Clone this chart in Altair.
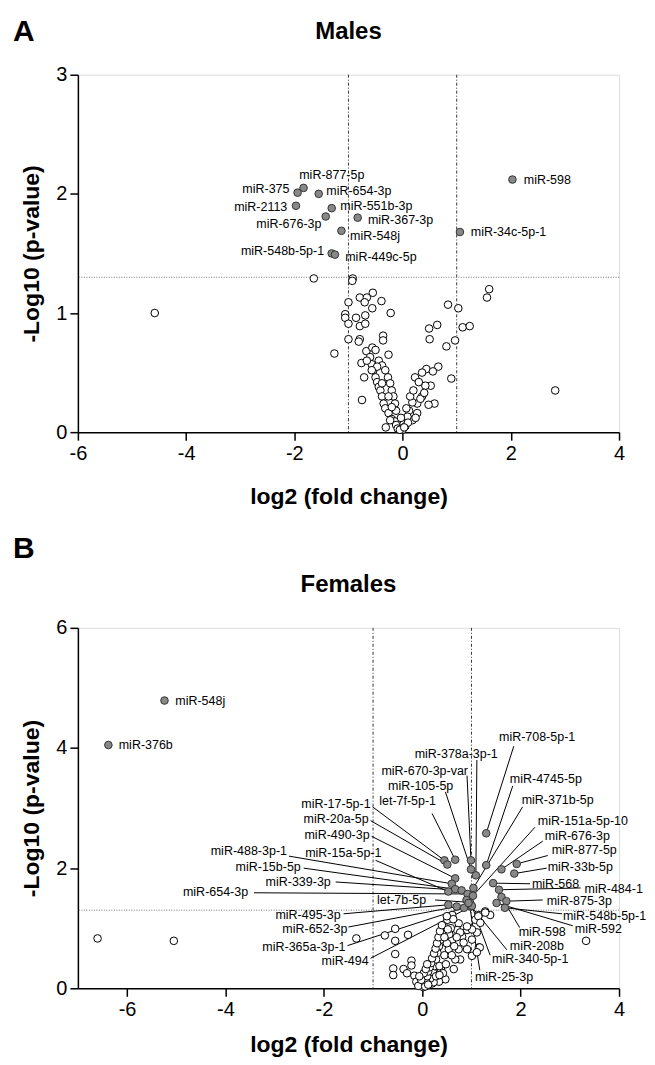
import altair as alt
import pandas as pd

FONT = "Liberation Sans"

# ---------------- Males ----------------
m_sig_name = ["miR-877-5p", "miR-375", "miR-654-3p", "miR-2113", "miR-551b-3p", "miR-676-3p",
              "miR-367-3p", "miR-548j", "miR-548b-5p-1", "miR-449c-5p", "miR-598", "miR-34c-5p-1"]
m_sig_x = [-1.83, -1.94, -1.55, -1.97, -1.31, -1.42, -0.83, -1.13, -1.31, -1.25, 2.03, 1.06]
m_sig_y = [2.05, 2.01, 2.00, 1.90, 1.88, 1.81, 1.80, 1.69, 1.50, 1.49, 2.12, 1.68]
m_lab_x = [-1.91, -2.09, -1.41, -2.13, -1.15, -1.50, -0.64, -0.97, -1.45, -1.06, 2.24, 1.26]
m_lab_y = [2.16, 2.04, 2.02, 1.89, 1.90, 1.75, 1.78, 1.65, 1.52, 1.47, 2.12, 1.68]
m_lab_align = ["left", "right", "left", "right", "left", "right",
               "left", "left", "right", "left", "left", "left"]

m_ns_x = [-4.58, 2.82, -1.64, -0.92, -0.93, -0.55, -0.79, -0.66, -0.70, -1.00, -0.39, -0.56, -0.22,
          -1.06, -1.06, -0.86, -0.69, -1.00, -0.79, -0.69, -1.00, -0.79, -0.81, -0.36, -0.36, -1.26,
          -0.67, -0.56, -0.50, -0.26, -0.76, -0.71, -0.75,
          0.84, 1.03, 1.60, 1.56, 0.49, 0.64, 0.50, 1.11, 1.24, 0.97, 0.81, 0.90, 0.44, 0.66, 0.56,
          0.36, 0.23, 0.52, 0.42, 0.36, 0.59, 0.48, 0.27, 0.18, 0.27, 0.18, 0.12, 0.09, 0.02, 0.00,
          -0.60, -0.57, -0.54, -0.50, -0.47, -0.44, -0.41, -0.38, -0.35, -0.32, -0.26, -0.20, -0.14,
          -0.12, -0.09, -0.44, -0.38, -0.32, -0.27, -0.23, -0.20, -0.17, -0.14, -0.12, -0.31, -0.23,
          -0.66, -0.47, -0.20, -0.26, -0.38, -0.57, 0.05, 0.10, 0.14, 0.20, 0.30, 0.33, 0.40, 0.24,
          -0.05, -0.03, 0.03, 0.07]
m_ns_y = [1.00, 0.35, 1.29, 1.29, 1.27, 1.17, 1.13, 1.13, 1.09, 1.09, 1.10, 1.04, 1.00,
          0.99, 0.96, 0.96, 0.98, 0.91, 0.89, 0.91, 0.78, 0.78, 0.76, 0.81, 0.77, 0.66,
          0.68, 0.71, 0.69, 0.65, 0.58, 0.46, 0.27,
          1.07, 1.04, 1.20, 1.13, 0.87, 0.90, 0.78, 0.88, 0.89, 0.77, 0.72, 0.45, 0.53, 0.55, 0.51,
          0.50, 0.46, 0.39, 0.39, 0.30, 0.24, 0.23, 0.24, 0.25, 0.16, 0.10, 0.18, 0.13, 0.07, 0.02,
          0.63, 0.57, 0.52, 0.46, 0.42, 0.38, 0.35, 0.30, 0.24, 0.20, 0.16, 0.11, 0.09,
          0.06, 0.03, 0.60, 0.56, 0.52, 0.46, 0.41, 0.35, 0.30, 0.24, 0.18, 0.04, 0.10,
          0.60, 0.55, 0.21, 0.30, 0.41, 0.52, 0.05, 0.08, 0.30, 0.35, 0.42, 0.28, 0.33, 0.12,
          0.02, 0.12, 0.04, 0.20]

# ---------------- Females ----------------
f_sig_x = [0.45, 0.51, 0.67, 0.99, 0.99, 1.09, 1.30, 1.30, 0.67, 0.60, 0.67, 0.53, 0.80, 0.92,
           1.04, 1.03, 0.97, 0.90, 0.53, 0.70, 0.85, 0.99, 1.61, 1.92, 1.87, 1.44, 1.56, 1.61,
           1.71, 1.51, 1.68, 1.01, 0.94, -5.24, -6.38]
f_sig_y = [2.13, 2.06, 2.14, 2.13, 1.98, 1.88, 2.58, 2.05, 1.83, 1.74, 1.65, 1.61, 1.63, 1.57,
           1.67, 1.54, 1.43, 1.47, 1.39, 1.36, 1.34, 1.36, 1.98, 2.07, 1.91, 1.75, 1.64, 1.52,
           1.45, 1.42, 1.34, 1.37, 1.42, 4.79, 4.05]

f_ns_x = [-6.60, -5.05, 3.33, -1.34, -0.76, -0.55, -0.29, -0.55, -0.55, -0.59, -0.59, -0.38, -0.22,
          -0.22, -0.31, -0.16, -0.12, 0.00, 0.16, 0.22, 0.25, 0.28, 0.31, 0.34, 0.38, 0.41, 0.44,
          0.51, 0.61, 0.74, 0.71, 0.81, 0.61, 0.54, 0.74, 0.91, 1.08, 1.15, 1.38, 1.28, 0.91, 1.01,
          1.15, 0.77, 0.64, 0.47, 0.34, 0.20, 0.67, 0.38, 0.84, 1.01, 1.14, 1.18, 1.11, 1.01, 1.17,
          1.11, 0.77, 0.91, 0.63, 0.50, 0.35, 0.23, 0.16, 1.28, 0.05, 0.08, 0.10, 0.12, 0.15, 0.18,
          0.20, 0.24, 0.27, 0.30, 0.33, 0.36, 0.40, 0.45, 0.50, 0.55, 0.58, 0.48, 0.42, 0.60, 0.65,
          0.70, 0.45, 0.52, 0.28, 0.35, 0.02, -0.04, -0.08, 0.06, 0.12, -0.02, 0.03, 0.07, -0.06, 0.10]
f_ns_y = [0.83, 0.79, 0.79, 0.83, 0.88, 0.99, 0.89, 0.79, 0.57, 0.33, 0.22, 0.32, 0.46,
          0.38, 0.25, 0.21, 0.11, 0.05, 0.15, 0.26, 0.37, 0.48, 0.59, 0.70, 0.81, 0.92, 1.03,
          1.14, 1.22, 1.08, 0.97, 0.86, 0.81, 0.65, 0.65, 0.97, 1.14, 1.22, 1.22, 1.28, 0.65, 0.54,
          0.68, 0.48, 0.32, 0.15, 0.11, 0.08, 0.48, 0.32, 0.76, 0.81, 1.20, 1.09, 0.93, 0.98, 0.68,
          0.60, 0.93, 1.03, 1.15, 1.20, 0.37, 0.10, 0.16, 1.26, 0.08, 0.12, 0.20, 0.28, 0.35, 0.42,
          0.50, 0.58, 0.66, 0.75, 0.85, 0.95, 1.05, 0.55, 0.75, 0.90, 1.00, 0.40, 0.25, 0.55, 0.70,
          0.85, 0.85, 0.98, 0.20, 0.22, 0.02, 0.06, 0.04, 0.03, 0.06, 0.14, 0.25, 0.32, 0.20, 0.40]

# labelled points: name, text x/y, alignment, leader start x/y, point x/y
f_lab_name = ["miR-17-5p-1", "miR-20a-5p", "miR-490-3p", "miR-488-3p-1", "miR-15a-5p-1",
              "miR-15b-5p", "miR-339-3p", "miR-654-3p", "let-7b-5p", "miR-495-3p", "miR-652-3p",
              "miR-365a-3p-1", "miR-494", "miR-378a-3p-1", "miR-670-3p-var", "miR-105-5p",
              "let-7f-5p-1", "miR-708-5p-1", "miR-4745-5p", "miR-371b-5p", "miR-151a-5p-10",
              "miR-676-3p", "miR-877-5p", "miR-33b-5p", "miR-568", "miR-484-1", "miR-875-3p",
              "miR-548b-5p-1", "miR-592", "miR-598", "miR-208b", "miR-340-5p-1", "miR-25-3p"]
f_lab_x = [-1.05, -1.09, -1.07, -2.75, -0.83, -2.47, -1.86, -3.54, 0.08, -1.66, -1.52, -1.56,
           -1.09, 0.69, 0.93, 0.63, 0.28, 1.56, 1.78, 2.02, 2.35, 2.49, 2.63, 2.55, 2.23, 3.30,
           2.53, 2.86, 3.10, 1.96, 1.78, 1.42, 1.07]
f_lab_y = [3.06, 2.81, 2.55, 2.28, 2.26, 2.02, 1.77, 1.60, 1.47, 1.22, 0.99, 0.68, 0.46, 3.90,
           3.62, 3.37, 3.11, 4.18, 3.49, 3.14, 2.79, 2.53, 2.30, 2.02, 1.74, 1.65, 1.45, 1.21,
           0.98, 0.93, 0.71, 0.48, 0.18]
f_lab_align = ["right"] * 13 + ["center", "right", "right", "right"] + ["left"] * 16
f_line_x = [-1.01, -1.05, -1.03, -2.71, -0.95, -2.41, -1.76, -3.42, 0.26, -1.60, -1.50, -1.52,
            -1.05, 1.11, 0.91, 0.47, 0.20, 1.86, 1.84, 2.04, 2.29, 2.45, 2.55, 2.53, 2.19, 3.22,
            2.45, 2.84, 3.06, 1.98, 1.72, 1.38, 1.17]
f_line_y = [3.02, 2.79, 2.53, 2.20, 2.13, 2.00, 1.77, 1.59, 1.47, 1.24, 1.02, 0.71, 0.50, 3.80,
            3.54, 3.27, 2.91, 4.03, 3.37, 3.02, 2.68, 2.45, 2.21, 2.00, 1.74, 1.67, 1.47, 1.24,
            1.04, 1.01, 0.64, 0.55, 0.30]
f_pt_x = [0.45, 0.51, 0.67, 0.60, 0.53, 0.67, 0.80, 0.92, 0.97, 0.53, 0.70, 0.85, 0.99, 1.09,
          0.99, 0.99, 0.67, 1.30, 1.30, 1.04, 1.03, 1.61, 1.92, 1.87, 1.44, 1.56, 1.71, 1.68,
          1.51, 1.61, 0.94, 1.01, 0.97]
f_pt_y = [2.13, 2.06, 1.83, 1.74, 1.61, 1.65, 1.63, 1.57, 1.43, 1.39, 1.36, 1.34, 1.36, 1.88,
          2.13, 1.98, 2.14, 2.58, 2.05, 1.67, 1.54, 1.98, 2.07, 1.91, 1.75, 1.64, 1.45, 1.34,
          1.42, 1.52, 1.42, 1.37, 1.34]
f_side_name = ["miR-548j", "miR-376b"]
f_side_x = [-5.02, -6.17]
f_side_y = [4.79, 4.05]

W = 542
H_TOP = 358
H_BOT = 361


def axis(vals, title, orient, tpad):
    common = dict(values=vals, title=title, grid=False, tickSize=8, tickWidth=1.5,
                  domainWidth=1.5, domainColor="black", tickColor="black",
                  labelFont=FONT, labelFontSize=20, labelColor="black", labelPadding=3,
                  labelExpr="'' + datum.value",
                  titleFont=FONT, titleFontSize=23, titleFontWeight="bold", titleColor="black",
                  titlePadding=tpad)
    if orient == "x":
        return alt.Axis(labelFlush=False, **common)
    return alt.Axis(**common)


def panel(ns_df, sig_df, xdom, xticks, ydom, yticks, title, letter, letter_y, xtpad):
    xs = alt.Scale(domain=xdom, nice=False, zero=False)
    ys = alt.Scale(domain=ydom, nice=False, zero=False)
    base_x = alt.X("x:Q", scale=xs, axis=axis(xticks, "log2 (fold change)", "x", xtpad))
    base_y = alt.Y("y:Q", scale=ys, axis=axis(yticks, "-Log10 (p-value)", "y", 12))

    vlines = alt.Chart(pd.DataFrame({"x": [-1, 1]})).mark_rule(
        color="#333333", strokeWidth=1, strokeDash=[3, 2, 1, 2]).encode(
        x=alt.X("x:Q", scale=xs))
    hline = alt.Chart(pd.DataFrame({"y": [1.3]})).mark_rule(
        color="#777777", strokeWidth=1, strokeDash=[1, 1.5]).encode(
        y=alt.Y("y:Q", scale=ys))
    ns = alt.Chart(ns_df).mark_point(
        shape="circle", filled=True, fill="white", stroke="black", strokeWidth=1,
        size=58, opacity=1).encode(x=base_x, y=base_y)
    sig = alt.Chart(sig_df).mark_point(
        shape="circle", filled=True, fill="#888888", stroke="#333333", strokeWidth=1,
        size=58, opacity=1).encode(x=alt.X("x:Q", scale=xs), y=alt.Y("y:Q", scale=ys))
    ttl = alt.Chart(pd.DataFrame({"t": [title]})).mark_text(
        font=FONT, fontSize=24, fontWeight="bold", color="black", baseline="middle",
        align="center").encode(text="t:N", x=alt.value(W / 2), y=alt.value(-43))
    let = alt.Chart(pd.DataFrame({"t": [letter]})).mark_text(
        font=FONT, fontSize=30, fontWeight="bold", color="black", baseline="middle",
        align="left").encode(text="t:N", x=alt.value(-65), y=alt.value(letter_y))
    return [vlines, hline, ns, sig, ttl, let], xs, ys


# ---- top chart
m_ns = pd.DataFrame({"x": m_ns_x, "y": m_ns_y})
m_sig = pd.DataFrame({"x": m_sig_x, "y": m_sig_y})
m_lab = pd.DataFrame({"name": m_sig_name, "lx": m_lab_x, "ly": m_lab_y, "al": m_lab_align})
layers, xs, ys = panel(m_ns, m_sig, [-6, 4], [-6, -4, -2, 0, 2, 4], [0, 3], [0, 1, 2, 3],
                       "Males", "A", -43, 22)
for al in ["left", "right"]:
    layers.append(alt.Chart(m_lab[m_lab.al == al]).mark_text(
        font=FONT, fontSize=12.5, color="black", align=al, baseline="middle").encode(
        x=alt.X("lx:Q", scale=xs), y=alt.Y("ly:Q", scale=ys), text="name:N"))
top = alt.layer(*layers).properties(width=W, height=H_TOP)

# ---- bottom chart
f_ns = pd.DataFrame({"x": f_ns_x, "y": f_ns_y})
f_sig = pd.DataFrame({"x": f_sig_x, "y": f_sig_y})
f_lab = pd.DataFrame({"name": f_lab_name, "lx": f_lab_x, "ly": f_lab_y, "al": f_lab_align,
                      "sx": f_line_x, "sy": f_line_y, "px": f_pt_x, "py": f_pt_y})
f_side = pd.DataFrame({"name": f_side_name, "lx": f_side_x, "ly": f_side_y})
layers2, xs2, ys2 = panel(f_ns, f_sig, [-7, 4], [-6, -4, -2, 0, 2, 4], [0, 6], [0, 2, 4, 6],
                          "Females", "B", -79, 14)
leaders = alt.Chart(f_lab).mark_rule(color="black", strokeWidth=1).encode(
    x=alt.X("sx:Q", scale=xs2), y=alt.Y("sy:Q", scale=ys2), x2="px:Q", y2="py:Q")
layers2.insert(2, leaders)
for al in ["left", "right", "center"]:
    layers2.append(alt.Chart(f_lab[f_lab.al == al]).mark_text(
        font=FONT, fontSize=12.5, color="black", align=al, baseline="middle").encode(
        x=alt.X("lx:Q", scale=xs2), y=alt.Y("ly:Q", scale=ys2), text="name:N"))
layers2.append(alt.Chart(f_side).mark_text(
    font=FONT, fontSize=12.5, color="black", align="left", baseline="middle").encode(
    x=alt.X("lx:Q", scale=xs2), y=alt.Y("ly:Q", scale=ys2), text="name:N"))
bottom = alt.layer(*layers2).properties(width=W, height=H_BOT)

chart = alt.vconcat(top, bottom, spacing=24).properties(
    padding={"left": 4, "top": 7, "right": 0, "bottom": 0}
).configure_view(stroke=None).configure(background="white")

chart.save("out.html", embed_options={"renderer": "svg", "actions": False})
